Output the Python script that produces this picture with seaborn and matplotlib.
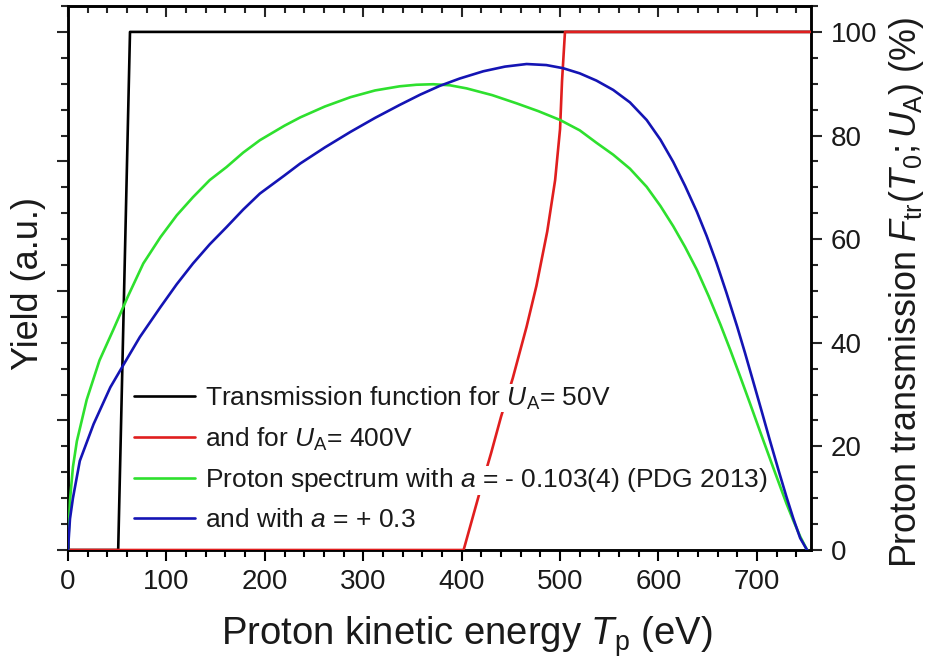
import matplotlib
matplotlib.use("Agg")
import matplotlib.pyplot as plt
from matplotlib.ticker import MultipleLocator
import pandas as pd
import seaborn as sns

# Proton spectrum, a = -0.103(4) (PDG 2013)
t_green = [0, 2, 5, 9, 19, 32, 46, 61, 76.5, 94, 110.5, 127, 144, 161, 178, 195, 220, 236,
           261, 287, 312, 337, 354, 371, 388, 405, 431, 456, 478, 500, 520, 537, 554, 571,
           588, 602, 615, 627, 639, 651, 663, 673, 683, 693, 703, 717, 730, 737, 744, 751]
y_green = [0, 9.5, 16, 21, 29, 36.6, 42.5, 49, 55.3, 60.4, 64.6, 68.1, 71.4, 73.9, 76.7, 79.1,
           81.9, 83.5, 85.6, 87.4, 88.7, 89.5, 89.8, 89.9, 89.7, 89.1, 87.8, 86.2, 84.7, 83.0,
           81.0, 78.6, 76.3, 73.6, 70.1, 66.4, 62.5, 58.5, 54.1, 49.0, 43.5, 38.6, 33.5, 28.3,
           23.0, 15.7, 9.0, 5.7, 2.6, 0]

# Proton spectrum, a = +0.3
t_blue = [0, 2, 5, 12, 26, 43, 59, 73, 94, 110.5, 127, 144, 161, 178, 195, 220, 236, 261,
          287, 312, 337, 358, 378, 398, 422, 444, 466, 486, 503, 520, 537, 554, 571, 588,
          602, 615, 627, 639, 649, 659, 669, 680, 688, 696, 705, 713, 722, 730, 737, 744, 751]
y_blue = [0, 6, 10, 17.2, 24.3, 31.4, 36.6, 41.1, 46.9, 51.3, 55.3, 59.0, 62.3, 65.7, 68.8,
          72.3, 74.6, 77.7, 80.7, 83.4, 85.9, 87.9, 89.6, 91.0, 92.4, 93.3, 93.8, 93.6, 93.0,
          92.0, 90.6, 88.8, 86.4, 83.0, 79.2, 74.9, 70.3, 65.3, 60.6, 55.4, 49.7, 43.1, 38.0,
          32.7, 26.7, 21.3, 15.4, 10.3, 6.1, 2.3, 0]

# Transmission function, U_A = 50 V
t_black = [0, 51, 63, 755]
y_black = [0, 0, 100, 100]

# Transmission function, U_A = 400 V
t_red = [0, 402, 418, 430, 440, 452, 466, 476, 487, 495, 500, 502, 505, 755]
y_red = [0, 0, 10.9, 18.75, 25.7, 33.2, 43.1, 51.0, 61.5, 71.4, 81.25, 90.5, 100, 100]

labels = [
    r"Transmission function for $U_{\mathrm{A}}$= 50V",
    r"and for $U_{\mathrm{A}}$= 400V",
    r"Proton spectrum with $a$ = - 0.103(4) (PDG 2013)",
    r"and with $a$ = + 0.3",
]
colors = ["#000000", "#e01e1e", "#2ee02e", "#1414b4"]

sns.set_style("ticks")
plt.rcParams["font.family"] = ["Liberation Sans", "DejaVu Sans"]
plt.rcParams["mathtext.fontset"] = "custom"
plt.rcParams["mathtext.rm"] = "Liberation Sans"
plt.rcParams["mathtext.it"] = "Liberation Sans:italic"
plt.rcParams["mathtext.bf"] = "Liberation Sans:bold"

fig = plt.figure(figsize=(9.3, 6.6), dpi=100)
ax = fig.add_axes([68 / 930, 1 - 550 / 660, (811 - 68) / 930, (550 - 6) / 660])

series = [(t_black, y_black), (t_red, y_red), (t_green, y_green), (t_blue, y_blue)]
order = [2, 3, 0, 1]  # spectra underneath, transmission curves on top
for i in order:
    t, y = series[i]
    df = pd.DataFrame({"T": t, "Y": y})
    sns.lineplot(data=df, x="T", y="Y", ax=ax, color=colors[i], lw=1.9,
                 estimator=None, sort=False, label=labels[i], zorder=3 + i)

ax.set_xlim(0, 755)
ax.set_ylim(0, 105)

ax.xaxis.set_major_locator(MultipleLocator(100))
ax.xaxis.set_minor_locator(MultipleLocator(20))
ax.yaxis.set_major_locator(MultipleLocator(25))
ax.yaxis.set_minor_locator(MultipleLocator(5))
ax.tick_params(axis="x", which="both", direction="out", top=False, labelsize=20,
               width=1.5, color="black", labelcolor="#1a1a1a", pad=6)
ax.tick_params(axis="x", which="major", length=8)
ax.tick_params(axis="x", which="minor", length=5)
ax.tick_params(axis="y", which="both", direction="out", labelleft=False, width=1.5)
ax.tick_params(axis="y", which="major", length=8)
ax.tick_params(axis="y", which="minor", length=5)

# inward ticks along the top edge
axt = ax.secondary_xaxis("top")
axt.xaxis.set_major_locator(MultipleLocator(100))
axt.xaxis.set_minor_locator(MultipleLocator(20))
axt.tick_params(axis="x", which="both", direction="in", labeltop=False, width=1.5)
axt.tick_params(axis="x", which="major", length=8)
axt.tick_params(axis="x", which="minor", length=5)

ax2 = ax.twinx()
ax2.set_ylim(0, 105)
ax2.yaxis.set_major_locator(MultipleLocator(20))
ax2.yaxis.set_minor_locator(MultipleLocator(5))
ax2.tick_params(axis="y", which="both", direction="out", width=1.5, labelsize=20,
                labelcolor="#1a1a1a", pad=6)
ax2.tick_params(axis="y", which="major", length=8)
ax2.tick_params(axis="y", which="minor", length=5)

for a in (ax, ax2):
    for s in a.spines.values():
        s.set_linewidth(1.8)
        s.set_color("black")
        s.set_visible(True)
axt.spines["top"].set_linewidth(1.8)

ax.set_xlabel(r"Proton kinetic energy $T_{\mathrm{p}}$ (eV)", fontsize=27.5,
              color="#1a1a1a", labelpad=2)
ax.xaxis.set_label_coords((467 - 68) / 743, -0.118)
ax.set_ylabel("Yield (a.u.)", fontsize=26, color="#1a1a1a")
ax.yaxis.set_label_coords(-(68 - 46) / 743, 0.49)
ax2.set_ylabel(r"Proton transmission $F_{\mathrm{tr}}(T_0;U_{\mathrm{A}})$ (%)",
               fontsize=25.8, color="#1a1a1a")
ax2.yaxis.set_label_coords((887 - 68) / 743, (550 - 292) / 544)

handles, labs = ax.get_legend_handles_labels()
hmap = dict(zip(labs, handles))
leg = ax.legend([hmap[l] for l in labels], labels, loc="lower left",
                bbox_to_anchor=(0.078, 0.0185), fontsize=19, frameon=False,
                handlelength=2.3, handletextpad=0.4, labelspacing=0.52,
                borderpad=0.3, borderaxespad=0, labelcolor="#1a1a1a")
for txt in leg.get_texts():
    txt.set_bbox(dict(facecolor="white", edgecolor="none", pad=0.5))
leg.set_zorder(20)
ax.set_zorder(ax2.get_zorder() + 1)
ax.patch.set_visible(False)

fig.savefig("out.png", dpi=100, facecolor="white")
